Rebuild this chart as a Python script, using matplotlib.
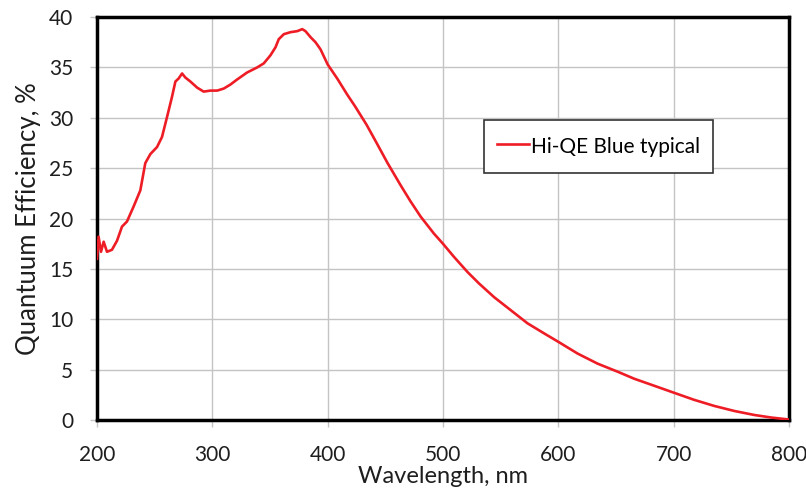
import matplotlib
matplotlib.use("Agg")
import matplotlib.pyplot as plt

plt.rcParams['font.family'] = ['Lato', 'DejaVu Sans']

# Typical quantum efficiency curve of the Hi-QE Blue sensor
wavelength_nm = [200, 201.4, 203.5, 205.8, 208.7, 213, 217.4, 221.7, 226, 231.8,
                 237.6, 241.9, 246.3, 252.1, 256.4, 260.8, 265.1, 268, 270.8, 273.8,
                 276.6, 281, 286.8, 292.5, 298.4, 304.2, 309.9, 315.7, 321.5, 330.2,
                 338.9, 344.6, 350.4, 354.8, 357.6, 362, 367.8, 373.6, 378, 380.8,
                 385.2, 389.5, 393.8, 400, 408.3, 417, 424, 433.8, 442, 452,
                 463.3, 471.9, 480.6, 492.2, 500, 509.5, 521.2, 531.3, 544.3, 558.8,
                 573.3, 587.7, 600.2, 616.7, 634, 651.4, 665.8, 683.2, 700.5, 717.9,
                 735.2, 752.6, 770, 784.5, 800]
qe_percent = [16.0, 18.2, 16.7, 17.7, 16.7, 16.9, 17.8, 19.2, 19.7, 21.2,
              22.8, 25.5, 26.4, 27.1, 28.1, 30.1, 32.1, 33.6, 33.9, 34.4,
              34.0, 33.6, 33.0, 32.6, 32.7, 32.7, 32.9, 33.3, 33.8, 34.5,
              35.0, 35.4, 36.2, 37.0, 37.8, 38.3, 38.5, 38.6, 38.8, 38.6,
              38.0, 37.5, 36.8, 35.3, 33.9, 32.3, 31.1, 29.3, 27.6, 25.5,
              23.3, 21.7, 20.2, 18.5, 17.5, 16.2, 14.7, 13.55, 12.2, 10.9,
              9.6, 8.6, 7.75, 6.6, 5.6, 4.8, 4.1, 3.4, 2.7, 2.0,
              1.4, 0.9, 0.5, 0.25, 0.05]

x_ticks = [200, 300, 400, 500, 600, 700, 800]
y_ticks = [0, 5, 10, 15, 20, 25, 30, 35, 40]

fig = plt.figure(figsize=(8.06, 4.93), dpi=100)
ax = fig.add_axes([0.1203, 0.148, 0.8586, 0.8174])

ax.plot(wavelength_nm, qe_percent, color='#ee1c25', linewidth=1.9,
        label='Hi-QE Blue typical', zorder=3)

ax.set_xlim(200, 800)
ax.set_ylim(0, 40)
ax.set_xticks(x_ticks)
ax.set_yticks(y_ticks)
ax.grid(True, color='#c4c4c4', linewidth=1.0)
ax.set_axisbelow(True)

for side in ax.spines.values():
    side.set_color('black')
    side.set_linewidth(2.5)

ax.tick_params(axis='both', direction='out', length=5, width=1,
               color='#c4c4c4', labelsize=15, labelcolor='#1e1e1e')
ax.tick_params(axis='x', pad=13)
ax.tick_params(axis='y', pad=12)

ax.set_xlabel('Wavelength, nm', fontsize=17, color='#1e1e1e', labelpad=1)
ax.set_ylabel('Quantuum Efficiency, %', fontsize=18.5, color='#1e1e1e', labelpad=6)

leg = ax.legend(loc='upper left', bbox_to_anchor=(0.559, 0.744),
                frameon=True, fancybox=False, fontsize=15,
                handlelength=1.5, handleheight=1.5, handletextpad=0.1,
                borderpad=0.65, borderaxespad=0)
leg.get_frame().set_edgecolor('#333333')
leg.get_frame().set_linewidth(1.2)
leg.get_frame().set_alpha(1)

fig.savefig('out.png', dpi=100)
